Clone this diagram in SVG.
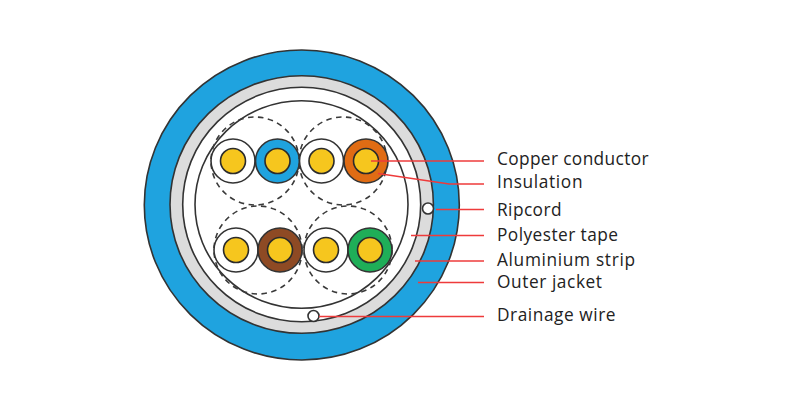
<svg xmlns="http://www.w3.org/2000/svg" width="790" height="406" viewBox="0 0 790 406">
<style>
.s{stroke:#333;stroke-width:1.6}
.dash{fill:none;stroke:#3a3a3a;stroke-width:1.6;stroke-dasharray:5.500 4.500}
.core{fill:#f6c61e;stroke:#2b2b2b;stroke-width:1.6}
.leader{fill:none;stroke:#ee3b3b;stroke-width:1.5}
.label{font-family:"Open Sans","Noto Sans",sans-serif;font-size:17.300px;fill:#222}
</style>
<rect width="790" height="406" fill="#fff"/>
<g id="cable-body">
<ellipse class="s" cx="301.800" cy="205" rx="157.500" ry="155" fill="#1fa3df"/>
<ellipse class="s" cx="301.700" cy="204.500" rx="131.700" ry="128.800" fill="#dcdcdc"/>
<ellipse class="s" cx="301.700" cy="204.500" rx="119" ry="117.200" fill="#fff"/>
<ellipse class="s" cx="301.500" cy="204.500" rx="106.500" ry="103.800" fill="#fff"/>
</g>
<g id="ripcord"><circle class="s" cx="428" cy="208.500" r="5.500" fill="#fff"/></g>
<g id="drainage-wire"><circle class="s" cx="313.500" cy="316" r="5.500" fill="#fff"/></g>
<g id="pair-top-left">
<circle class="dash" cx="255" cy="161" r="44"/>
<circle class="s" cx="233" cy="161" r="22" fill="#fff"/><circle class="core" cx="233" cy="161" r="12.500"/>
<circle class="s" cx="277.500" cy="161" r="22" fill="#1fa3df"/><circle class="core" cx="277.500" cy="161" r="12.500"/>
</g>
<g id="pair-top-right">
<circle class="dash" cx="343" cy="161" r="44"/>
<circle class="s" cx="321.500" cy="161" r="22" fill="#fff"/><circle class="core" cx="321.500" cy="161" r="12.500"/>
<circle class="s" cx="366" cy="161" r="22" fill="#e06c14"/><circle class="core" cx="366" cy="161" r="12.500"/>
</g>
<g id="pair-bottom-left">
<circle class="dash" cx="258" cy="250" r="44"/>
<circle class="s" cx="236" cy="250" r="22" fill="#fff"/><circle class="core" cx="236" cy="250" r="12.500"/>
<circle class="s" cx="280" cy="250" r="22" fill="#8e4a24"/><circle class="core" cx="280" cy="250" r="12.500"/>
</g>
<g id="pair-bottom-right">
<circle class="dash" cx="348" cy="250" r="44"/>
<circle class="s" cx="326" cy="250" r="22" fill="#fff"/><circle class="core" cx="326" cy="250" r="12.500"/>
<circle class="s" cx="370" cy="250" r="22" fill="#1fae58"/><circle class="core" cx="370" cy="250" r="12.500"/>
</g>
<g id="connectors">
<path class="leader" d="M371 161H484"/>
<path class="leader" d="M378 173.500L446 183.500L449 184H484"/>
<path class="leader" d="M436 209.500H484"/>
<path class="leader" d="M411 235.500H484"/>
<path class="leader" d="M415 261H484"/>
<path class="leader" d="M418 282.500H484"/>
<path class="leader" d="M319 316.500H484"/>
</g>
<g id="labels">
<text class="label" x="497" y="165" textLength="151.500">Copper conductor</text>
<text class="label" x="497" y="188.300" textLength="85.500">Insulation</text>
<text class="label" x="497" y="215.500" textLength="64.500">Ripcord</text>
<text class="label" x="497" y="240.500" textLength="121">Polyester tape</text>
<text class="label" x="497" y="265.700" textLength="138">Aluminium strip</text>
<text class="label" x="497" y="287.700" textLength="105">Outer jacket</text>
<text class="label" x="497" y="321" textLength="118.500">Drainage wire</text>
</g>
</svg>
